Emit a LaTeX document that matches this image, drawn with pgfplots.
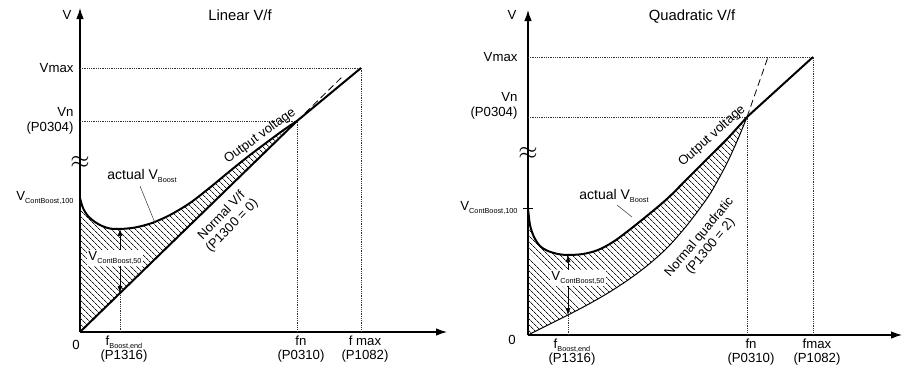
\documentclass[border=0pt]{standalone}
\usepackage{fontspec}
\setmainfont{Liberation Sans}
\usepackage{pgfplots}
\pgfplotsset{compat=1.18}
\usetikzlibrary{arrows.meta,patterns.meta}
\newcommand\sub[1]{\raisebox{-0.5ex}{\fontsize{7.3}{8}\selectfont #1}}
\newcommand\lab{\fontsize{13.2}{14.5}\selectfont}
\pgfplotsset{
  vfstyle/.style={
    x=1pt, y=1pt, anchor=origin, axis lines=left,
    axis line style={line width=1.1pt, -{Latex[length=11pt,width=7.5pt]}},
    clip=false, enlargelimits=false, xmin=0, ymin=0,
    major tick length=0pt,
    tick label style={font=\lab},
    xticklabel style={align=center, xshift=4pt},
    yticklabel style={align=right, xshift=-3pt},
  },
  dot/.style={densely dotted, line width=0.8pt, black!80},
  thickc/.style={line width=2pt, black, line join=round},
  hatch/.style={draw=none, pattern={Lines[angle=-45,distance=4pt,line width=0.75pt]}, pattern color=black!90},
  dbl/.style={line width=0.6pt, {Latex[length=7pt,width=5pt]}-{Latex[length=7pt,width=5pt]}},
}
\begin{document}
\begin{tikzpicture}
\useasboundingbox (0,0) rectangle (904pt,368pt);
% ---------------- Linear V/f ----------------
\begin{axis}[vfstyle, at={(80pt,36pt)}, xmax=367, ymax=324,
  xtick={40,217,281},
  xticklabels={{f\sub{Boost,end}\\(P1316)},{fn\\(P0310)},{f max\\(P1082)}},
  ytick={134,211,264},
  yticklabels={{V\sub{ContBoost,100}},{Vn\\(P0304)},{Vmax}}]
\addplot[hatch] coordinates {(0,0)(0,134)(3,124)(8,116)(15,110)(22,106)(30,103.5)(40,103)(55,104.5)(72,109)(90,117)(110,129)(130,144.5)(150,161)(170,177)(190,192)(205,203)(217,211)};
\addplot[dot] coordinates {(0,264)(281,264)(281,0)};
\addplot[dot] coordinates {(0,211)(217,211)(217,0)};
\addplot[dot] coordinates {(40,0)(40,39)};
\addplot[thickc, smooth] coordinates {(0,134)(3,124)(8,116)(15,110)(22,106)(30,103.5)(40,103)(55,104.5)(72,109)(90,117)(110,129)(130,144.5)(150,161)(170,177)(190,192)(205,203)(217,211)};
\addplot[thickc] coordinates {(0,0)(217,211)(281,264)};
\addplot[line width=0.8pt, dash pattern=on 7pt off 4pt] coordinates {(217,211)(263,256)};
\addplot[dbl] coordinates {(40,39)(40,103)};
\addplot[line width=0.5pt, black!80] coordinates {(60,146)(75,109)};
\node[fill=white, inner sep=1pt, font=\lab] at (axis cs:35,74) {V\sub{ContBoost,50}};
\node[font=\fontsize{14.8}{16}\selectfont] at (axis cs:160,317) {Linear V/f};
\node[font=\lab] at (axis cs:-13,317) {V};
\node[font=\lab] at (axis cs:-4,-13) {0};
\node[font=\fontsize{28}{28}\selectfont, inner sep=0pt] at (axis cs:0,170) {$\approx$};
\node[font=\fontsize{14}{15}\selectfont] at (axis cs:62,156) {actual V\sub{Boost}};
\node[font=\fontsize{13}{14}\selectfont, rotate=36] at (axis cs:180,196) {Output voltage};
\node[font=\fontsize{13}{14.5}\selectfont, rotate=46, align=center] at (axis cs:147,111) {Normal V/f\\(P1300 = 0)};
\end{axis}
% ---------------- Quadratic V/f ----------------
\begin{axis}[vfstyle, at={(528pt,33pt)}, xmax=374, ymax=325,
  yticklabel style={xshift=-4pt},
  xtick={40,219,285},
  xticklabels={{f\sub{Boost,end}\\(P1316)},{fn\\(P0310)},{fmax\\(P1082)}},
  ytick={127,278},
  yticklabels={{V\sub{ContBoost,100}},{Vmax}},
  extra y ticks={218},
  extra y tick labels={{Vn\\(P0304)}},
  extra y tick style={yticklabel style={yshift=11pt}}]
\addplot[hatch] coordinates {(0,0)(0,127)(2,110)(6,98)(12,89)(20,84)(30,81)(40,80)(55,81)(70,85)(85,93)(100,104)(120,120)(140,137)(160,157)(180,177)(200,197)(219,218)
  (210,196)(200,174)(190,155)(180,138)(160,111)(140,88)(120,70)(100,55)(80,42)(60,30.5)(40,20)(20,10)(0,0)};
\addplot[dot] coordinates {(0,278)(285,278)(285,0)};
\addplot[dot] coordinates {(0,218)(219,218)(219,0)};
\addplot[dot] coordinates {(40,0)(40,20)};
\addplot[line width=1pt, smooth] coordinates {(0,0)(20,10)(40,20)(60,30.5)(80,42)(100,55)(120,70)(140,88)(160,111)(180,138)(190,155)(200,174)(210,196)(219,218)};
\addplot[thickc, smooth] coordinates {(0,127)(2,110)(6,98)(12,89)(20,84)(30,81)(40,80)(55,81)(70,85)(85,93)(100,104)(120,120)(140,137)(160,157)(180,177)(200,197)(219,218)};
\addplot[thickc] coordinates {(219,218)(285,278)};
\addplot[line width=0.8pt, dash pattern=on 7pt off 4pt] coordinates {(219,218)(240,278)};
\addplot[line width=0.8pt] coordinates {(-5,127)(5,127)};
\addplot[dbl] coordinates {(40,20)(40,80)};
\addplot[line width=0.5pt, black!80] coordinates {(89,130)(104,118)};
\node[fill=white, inner sep=1pt, font=\lab] at (axis cs:50,57) {V\sub{ContBoost,50}};
\node[font=\fontsize{14.8}{16}\selectfont] at (axis cs:164,318) {Quadratic V/f};
\node[font=\lab] at (axis cs:-16,320) {V};
\node[font=\lab] at (axis cs:-16,-5) {0};
\node[font=\fontsize{28}{28}\selectfont, inner sep=0pt] at (axis cs:0,182) {$\approx$};
\node[font=\fontsize{14}{15}\selectfont] at (axis cs:86,139) {actual V\sub{Boost}};
\node[font=\fontsize{13}{14}\selectfont, rotate=42] at (axis cs:184,199) {Output voltage};
\node[font=\fontsize{13}{14.5}\selectfont, rotate=50, align=center] at (axis cs:177,93) {Normal quadratic\\(P1300 = 2)};
\end{axis}
\end{tikzpicture}
\end{document}
